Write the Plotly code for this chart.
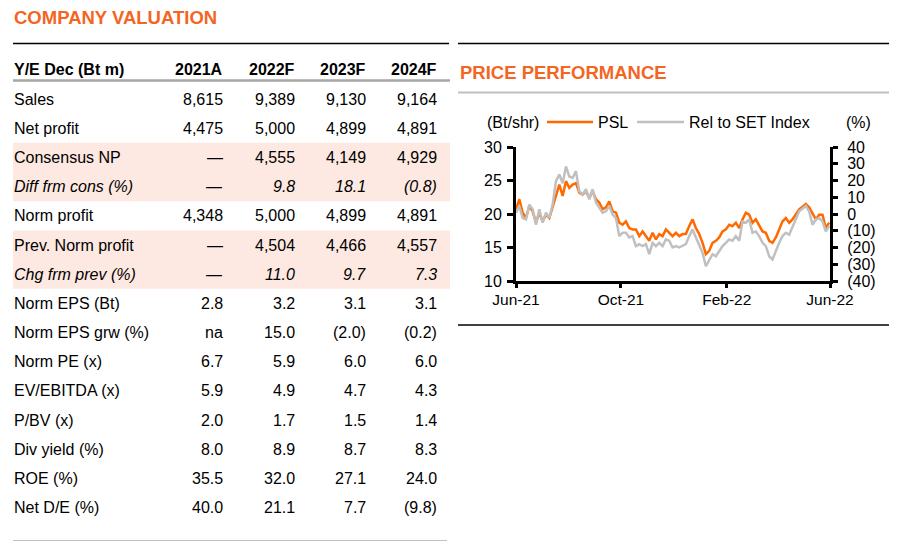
import plotly.graph_objects as go
import pandas as pd

# the page has an 8px body margin, so the figure is laid out inside it
PAGE_MARGIN = 8
FIG_W = 897 - 2 * PAGE_MARGIN
FIG_H = 549 - 2 * PAGE_MARGIN
FONT = "Liberation Sans, Arial, sans-serif"
ORANGE = "#ff6a00"
TITLE_ORANGE = "#f4651f"
GREY = "#c0c0c0"
PEACH = "#fde9e1"

# ---- valuation table ----
COLUMNS = ["2021A", "2022F", "2023F", "2024F"]
ROW_LABELS = ["Sales", "Net profit", "Consensus NP", "Diff frm cons (%)", "Norm profit",
              "Prev. Norm profit", "Chg frm prev (%)", "Norm EPS (Bt)", "Norm EPS grw (%)",
              "Norm PE (x)", "EV/EBITDA (x)", "P/BV (x)", "Div yield (%)", "ROE (%)", "Net D/E (%)"]
COL_2021A = ["8,615", "4,475", "\u2014", "\u2014", "4,348", "\u2014", "\u2014", "2.8", "na",
             "6.7", "5.9", "2.0", "8.0", "35.5", "40.0"]
COL_2022F = ["9,389", "5,000", "4,555", "9.8", "5,000", "4,504", "11.0", "3.2", "15.0",
             "5.9", "4.9", "1.7", "8.9", "32.0", "21.1"]
COL_2023F = ["9,130", "4,899", "4,149", "18.1", "4,899", "4,466", "9.7", "3.1", "(2.0)",
             "6.0", "4.7", "1.5", "8.7", "27.1", "7.7"]
COL_2024F = ["9,164", "4,891", "4,929", "(0.8)", "4,891", "4,557", "7.3", "3.1", "(0.2)",
             "6.0", "4.3", "1.4", "8.3", "24.0", "(9.8)"]
ITALIC_ROWS = [3, 6]
SHADED_ROWS = [(2, 3), (5, 6)]

# ---- price performance ----
START = "2021-06-01"
END = "2022-05-31"
PSL = [20.7, 22.2, 20.2, 19.4, 21.2, 20.4, 18.7, 20.2, 18.9, 19.9, 19.4, 21.2, 22.9, 24.4,
       22.7, 24.9, 23.9, 24.4, 24.6, 23.2, 22.9, 23.4, 22.4, 23.4, 22.2, 21.7, 20.7, 21.0,
       21.9, 20.4, 20.2, 18.7, 18.4, 18.9, 17.9, 17.7, 17.7, 16.7, 17.4, 16.7, 16.0, 17.2,
       16.2, 17.0, 16.7, 17.7, 17.2, 16.7, 17.2, 16.7, 17.0, 17.0, 18.2, 19.2, 17.9, 17.0,
       15.7, 14.0, 14.5, 15.7, 16.0, 16.5, 17.4, 17.7, 18.4, 18.2, 18.7, 17.9, 19.2, 20.2,
       19.9, 18.7, 19.2, 18.2, 17.4, 17.2, 16.0, 15.7, 16.5, 17.7, 18.9, 19.4, 18.7, 19.2,
       19.9, 20.7, 21.1, 21.5, 21.0, 20.0, 19.2, 19.9, 19.9, 17.9, 18.7]
REL_SET = [0.8, 4.8, -2.4, -3.2, 5.6, 2.8, -6.4, 2.8, -5.2, 0.8, -2.4, 5.6, 19.6, 23.6,
           18.4, 28.4, 22.4, 21.6, 25.6, 13.6, 11.6, 14.8, 8.8, 14.8, 6.8, 3.6, 0.8, 1.6,
           4.8, -0.4, -2.4, -13.2, -11.2, -11.2, -14.0, -13.2, -19.2, -18.0, -19.2, -18.0, -24.0, -17.2,
           -19.2, -17.2, -19.2, -15.2, -16.0, -20.0, -19.2, -20.0, -19.2, -18.0, -13.2, -9.2, -14.0, -19.2,
           -23.2, -31.2, -28.0, -24.0, -25.2, -22.0, -19.2, -17.2, -15.2, -16.0, -13.2, -16.0, -4.4, -5.2,
           -3.2, -11.2, -10.4, -13.2, -17.2, -19.2, -25.2, -27.2, -22.0, -17.2, -13.2, -11.2, -12.4, -7.2,
           -3.2, 1.6, 3.2, 4.8, 1.6, -6.4, -3.2, -2.4, -4.4, -10.4, -7.2]
X_TICKS = ["2021-06-01", "2021-10-01", "2022-02-01", "2022-06-01"]
X_TICK_TEXT = ["Jun-21", "Oct-21", "Feb-22", "Jun-22"]
Y2_TICKS = [40, 30, 20, 10, 0, -10, -20, -30, -40]
Y2_TICK_TEXT = ["40", "30", "20", "10", "0", "(10)", "(20)", "(30)", "(40)"]

dates = pd.date_range(START, END, periods=len(PSL))


# window pixel -> paper fraction
def px(x):
    return (x - PAGE_MARGIN) / FIG_W


def py(y):
    return 1 - (y - PAGE_MARGIN) / FIG_H


def hline(x0, x1, y, color, width):
    return dict(type="line", xref="paper", yref="paper", x0=px(x0), x1=px(x1),
                y0=py(y), y1=py(y), line=dict(color=color, width=width))


def text(x, y, s, anchor="left", size=16, color="black"):
    return dict(xref="paper", yref="paper", x=px(x), y=py(y), text=s, showarrow=False,
                xanchor=anchor, yanchor="middle", font=dict(family=FONT, size=size, color=color))


fig = go.Figure()
fig.add_trace(go.Scatter(x=dates, y=PSL, name="PSL", mode="lines",
                         line=dict(color=ORANGE, width=2.5), xaxis="x", yaxis="y"))
fig.add_trace(go.Scatter(x=dates, y=REL_SET, name="Rel to SET Index", mode="lines",
                         line=dict(color=GREY, width=2.5), xaxis="x", yaxis="y2"))

shapes = []
annotations = []

# left panel: company valuation
annotations.append(text(12, 18, "<b>COMPANY VALUATION</b>", size=18.5, color=TITLE_ORANGE))
shapes.append(hline(13, 449, 43.5, "black", 1.5))
row_y0 = 99
row_step = 29.2
col_right = [225, 296.5, 368, 439]
for top, bottom in SHADED_ROWS:
    shapes.append(dict(type="rect", xref="paper", yref="paper", layer="below",
                       x0=px(13), x1=px(450),
                       y0=py(row_y0 + row_step * top - row_step / 2),
                       y1=py(row_y0 + row_step * bottom + row_step / 2),
                       fillcolor=PEACH, line=dict(width=0)))
annotations.append(text(12, 69.5, "<b>Y/E Dec (Bt m)</b>"))
for c, col in enumerate(COLUMNS):
    annotations.append(text(col_right[c], 69.5, f"<b>{col}</b>", anchor="right"))
shapes.append(hline(13, 450, 80.5, "#a6a6a6", 2.5))
columns = [COL_2021A, COL_2022F, COL_2023F, COL_2024F]
for r, label in enumerate(ROW_LABELS):
    y = row_y0 + row_step * r
    fmt = "<i>{}</i>" if r in ITALIC_ROWS else "{}"
    annotations.append(text(12, y, fmt.format(label)))
    for c, col in enumerate(columns):
        annotations.append(text(col_right[c], y, fmt.format(col[r]), anchor="right"))
shapes.append(hline(13, 447, 541.5, "black", 1.5))

# right panel: price performance
shapes.append(hline(458, 891, 43.5, "black", 1.5))
annotations.append(text(458, 72, "<b>PRICE PERFORMANCE</b>", size=18.5, color=TITLE_ORANGE))
shapes.append(hline(458, 891, 92.5, GREY, 2))
shapes.append(hline(458, 892, 325, "black", 1.5))

# legend row
annotations.append(text(485, 122, "(Bt/shr)"))
shapes.append(hline(547, 593, 122, ORANGE, 2.5))
annotations.append(text(596, 122, fig.data[0].name))
shapes.append(hline(637, 684, 122, GREY, 2.5))
annotations.append(text(687, 122, fig.data[1].name))
annotations.append(text(844, 122, "(%)"))

axis_common = dict(showline=True, linecolor="black", linewidth=3, ticks="outside",
                   tickwidth=3, tickcolor="black", showgrid=False, zeroline=False,
                   automargin=False,
                   tickfont=dict(family=FONT, size=16, color="black"))

fig.update_layout(
    width=FIG_W, height=FIG_H,
    margin=dict(l=0, r=0, t=0, b=0, pad=0),
    paper_bgcolor="white", plot_bgcolor="white",
    showlegend=False,
    font=dict(family=FONT, size=16, color="black"),
    xaxis=dict(axis_common, domain=[px(516), px(830)], anchor="y", type="date",
               range=[START, "2022-06-01"], tickvals=X_TICKS, ticktext=X_TICK_TEXT,
               ticklen=4, ticklabelstandoff=-2,
               tickfont=dict(family=FONT, size=15.5, color="black")),
    yaxis=dict(axis_common, domain=[py(281), py(147)], anchor="x", range=[10, 30],
               dtick=5, ticklen=6, ticklabelstandoff=2),
    yaxis2=dict(axis_common, overlaying="y", side="right", anchor="x", range=[-40, 40],
                tickvals=Y2_TICKS, ticktext=Y2_TICK_TEXT, ticklen=5, ticklabelstandoff=6),
    shapes=shapes,
    annotations=annotations,
)

fig.write_html("out.html")
